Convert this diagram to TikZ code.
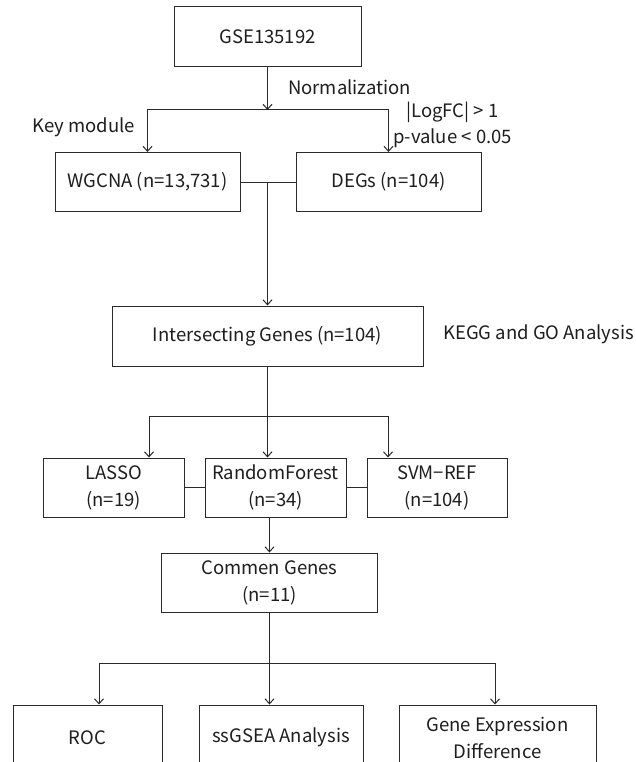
\documentclass[tikz,border=0pt]{standalone}
\usepackage{fontspec}
\setmainfont{Noto Sans CJK SC}
\usetikzlibrary{arrows.meta}
\definecolor{linec}{HTML}{2A2A2A}
\definecolor{txt}{HTML}{1E1E1E}
\begin{document}
\begin{tikzpicture}[x=1pt,y=-1pt,
  box/.style={draw=linec, line width=1pt, inner sep=0pt, align=center, text=txt,
    font=\fontsize{18.5}{27}\selectfont},
  lbl/.style={text=txt, inner sep=0pt, font=\fontsize{18.5}{27}\selectfont},
  conn/.style={draw=linec, line width=1pt},
  arr/.style={conn, -{Straight Barb[length=5pt,width=9pt]}}]
\useasboundingbox (0,0) rectangle (636,762);
\clip (0,0) rectangle (636,762);
\fill[white] (0,0) rectangle (636,762);
% boxes
\node[box, minimum width=187pt, minimum height=60pt] (gse) at (267.5,37) {GSE135192};
\node[box, minimum width=185pt, minimum height=59pt] (wg) at (147.5,182) {WGCNA (n=13,731)};
\node[box, minimum width=185pt, minimum height=59pt] (deg) at (388.5,182) {DEGs (n=104)};
\node[box, minimum width=311pt, minimum height=60pt] (int) at (267.5,336) {Intersecting Genes (n=104)};
\node[box, minimum width=141pt, minimum height=59pt] (las) at (113.5,487.5) {LASSO\\(n=19)};
\node[box, minimum width=141pt, minimum height=59pt] (rf) at (275.5,487.5) {RandomForest\\(n=34)};
\node[box, minimum width=140pt, minimum height=59pt] (svm) at (437,487.5) {SVM−REF\\(n=104)};
\node[box, minimum width=216pt, minimum height=59pt] (com) at (269.5,582.5) {Commen Genes\\(n=11)};
\node[box, minimum width=149pt, minimum height=65pt] (roc) at (87.5,737.5) {ROC};
\node[box, minimum width=164pt, minimum height=65pt] (ssg) at (281,737.5) {ssGSEA Analysis};
\node[box, minimum width=197pt, minimum height=65pt] (ge) at (497.5,737.5) {Gene Expression\\Difference};
% labels
\node[lbl, anchor=west] (norm) at (288,87) {Normalization};
\node[lbl, anchor=east] (key) at (135,127) {Key module};
\node[lbl, anchor=west] (lfc) at (406,112) {|LogFC| > 1};
\node[lbl, anchor=west] (pv) at (393,138) {p-value < 0.05};
\node[lbl, anchor=west] (kegg) at (443,334) {KEGG and GO Analysis};
% connectors
\coordinate (j1) at (267.5,110);
\draw[arr] (gse) -- (j1);
\draw[arr] (j1) -| (wg);
\draw[arr] (j1) -| (deg);
\draw[conn] (wg) -- (deg);
\coordinate (j2) at (int.north |- wg.east);
\draw[arr] (j2) -- (int);
\draw[arr] (int) -- (int.south |- rf.north);
\coordinate (l3) at (149,416);
\coordinate (r3) at (388,416);
\draw[conn] (l3) -- (r3);
\draw[arr] (l3) -- (l3 |- las.north);
\draw[arr] (r3) -- (r3 |- svm.north);
\draw[conn] (las) -- (rf);
\draw[conn] (rf) -- (svm);
\coordinate (rfb) at (com.north |- rf.south);
\draw[arr] (rfb) -- (com);
\draw[arr] (com) -- (com.south |- ssg.north);
\coordinate (l4) at (99,663);
\coordinate (r4) at (495,663);
\draw[conn] (l4) -- (r4);
\draw[arr] (l4) -- (l4 |- roc.north);
\draw[arr] (r4) -- (r4 |- ge.north);
\end{tikzpicture}
\end{document}
